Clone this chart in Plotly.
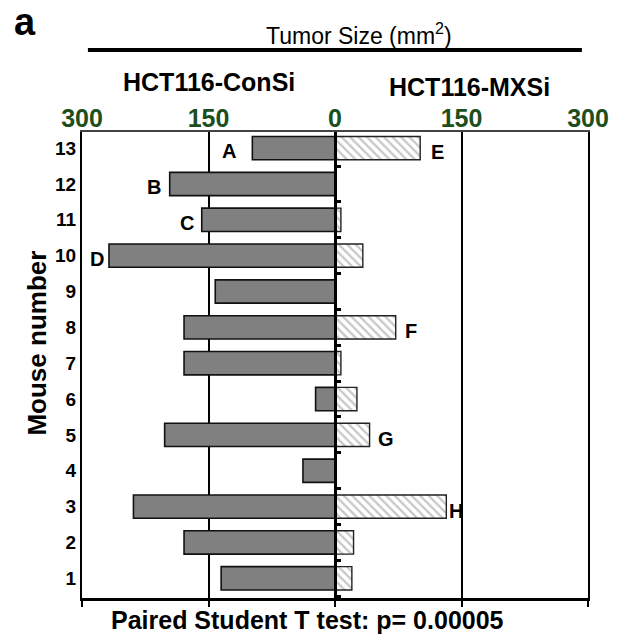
import plotly.graph_objects as go

# Tumor size (mm^2) per mouse for each xenograft group
mice = list(range(1, 14))
mouse_labels = [str(m) for m in mice]
consi_size = [135, 179, 239, 38, 202, 23, 179, 179, 142, 268, 158, 196, 98]
mxsi_size = [20, 22, 132, 0, 41, 26, 7, 72, 0, 33, 7, 0, 101]

# Letter tags attached to the ends of selected bars
tag_letters = ["A", "B", "C", "D", "E", "F", "G", "H"]
tag_mouse = [13, 12, 11, 10, 13, 8, 5, 3]
tag_group = ["ConSi", "ConSi", "ConSi", "ConSi", "MXSi", "MXSi", "MXSi", "MXSi"]

axis_ticks = [-300, -150, 0, 150, 300]
axis_ticktext = ["300", "150", "0", "150", "300"]

FONT = "Liberation Sans, Arial, sans-serif"
GREEN = "#1c4f1c"

# Horizontal spacing (px) between each tag and its bar end
tag_gap = [14, 7, 6, 3, 9, 7, 6, 1]

fig = go.Figure()

fig.add_trace(go.Bar(
    y=mice, x=[-v for v in consi_size], orientation="h", width=0.65,
    marker=dict(color="#808080", line=dict(color="#111111", width=1.6)),
    name="HCT116-ConSi", showlegend=False, hoverinfo="skip",
))
fig.add_trace(go.Bar(
    y=mice, x=mxsi_size, orientation="h", width=0.65,
    marker=dict(
        color="white",
        pattern=dict(shape="\\", fgcolor="#8f8f8f", bgcolor="white", size=6, solidity=0.38),
        line=dict(color="#222222", width=1.4),
    ),
    name="HCT116-MXSi", showlegend=False, hoverinfo="skip",
    xaxis="x2", yaxis="y2",
))

annotations = []
for letter, m, grp, gap in zip(tag_letters, tag_mouse, tag_group, tag_gap):
    i = mice.index(m)
    if grp == "ConSi":
        annotations.append(dict(x=-consi_size[i], y=m, xref="x", yref="y", text=f"<b>{letter}</b>",
                                xanchor="right", yanchor="middle", xshift=-gap, yshift=-3,
                                showarrow=False, font=dict(family=FONT, size=20, color="black")))
    else:
        annotations.append(dict(x=mxsi_size[i], y=m, xref="x", yref="y", text=f"<b>{letter}</b>",
                                xanchor="left", yanchor="middle", xshift=gap, yshift=-4,
                                showarrow=False, font=dict(family=FONT, size=20, color="black")))

# Panel letter, headings and footer
annotations += [
    dict(x=-0.112, y=1, xref="paper", yref="paper", yshift=110, text="<b>a</b>",
         xanchor="center", yanchor="middle", showarrow=False,
         font=dict(family=FONT, size=38, color="black")),
    dict(x=0.547, y=1, xref="paper", yref="paper", yshift=98, text="Tumor Size (mm<sup>2</sup>)",
         xanchor="center", yanchor="middle", showarrow=False,
         font=dict(family=FONT, size=23, color="black")),
    dict(x=-150, y=1, xref="x", yref="paper", yshift=50, text="<b>HCT116-ConSi</b>",
         xanchor="center", yanchor="middle", showarrow=False,
         font=dict(family=FONT, size=25, color="black")),
    dict(x=160, y=1, xref="x", yref="paper", yshift=45, text="<b>HCT116-MXSi</b>",
         xanchor="center", yanchor="middle", showarrow=False,
         font=dict(family=FONT, size=25, color="black")),
    dict(x=0.4455, y=0, xref="paper", yref="paper", yshift=-22,
         text="<b>Paired Student T test: p= 0.00005</b>",
         xanchor="center", yanchor="middle", showarrow=False,
         font=dict(family=FONT, size=25, color="black")),
    dict(x=-0.088, y=0.547, xref="paper", yref="paper", text="<b>Mouse number</b>",
         textangle=-90, xanchor="center", yanchor="middle", showarrow=False,
         font=dict(family=FONT, size=26, color="black")),
]

fig.update_layout(
    width=621, height=638,
    margin=dict(l=82, r=25, t=132, b=40),
    paper_bgcolor="white", plot_bgcolor="white",
    barmode="overlay",
    bargap=0.35,
    font=dict(family=FONT, color="black"),
    annotations=annotations,
    shapes=[dict(type="line", xref="paper", yref="paper", x0=0.0117, x1=0.988,
                 y0=1.176, y1=1.176, line=dict(color="black", width=4))],
    xaxis=dict(
        range=[-300, 300], tickvals=axis_ticks, ticktext=axis_ticktext,
        showticklabels=False, ticks="outside", ticklen=6, tickwidth=2, tickcolor="black",
        showline=True, linewidth=3, linecolor="black",
        showgrid=True, gridcolor="black", gridwidth=2, zeroline=False, fixedrange=True,
    ),
    xaxis2=dict(
        range=[-300, 300], overlaying="x", side="top", anchor="y",
        tickvals=axis_ticks, ticktext=axis_ticktext, ticks="", ticklen=0,
        tickfont=dict(family=FONT, size=25, color=GREEN, weight="bold"),
        ticklabelstandoff=-7,
        showline=True, linewidth=1.5, linecolor="#444444",
        showgrid=False, zeroline=False, fixedrange=True,
    ),
    yaxis=dict(
        range=[0.45, 13.45], tickvals=mice, ticktext=mouse_labels,
        tickfont=dict(family=FONT, size=19, color="black", weight="bold"),
        ticks="", ticklen=0, ticklabelstandoff=0,
        showline=True, mirror=True, linewidth=2, linecolor="black",
        showgrid=False, zeroline=False, fixedrange=True,
    ),
    yaxis2=dict(
        range=[0.45, 13.45], overlaying="y", anchor="free", position=0.5, side="right",
        tickvals=[m - 0.5 for m in mice], showticklabels=False,
        ticks="outside", ticklen=4, tickwidth=3, tickcolor="black",
        showline=True, linewidth=3, linecolor="black",
        showgrid=False, zeroline=False, fixedrange=True,
    ),
)

fig.write_html("out.html")
